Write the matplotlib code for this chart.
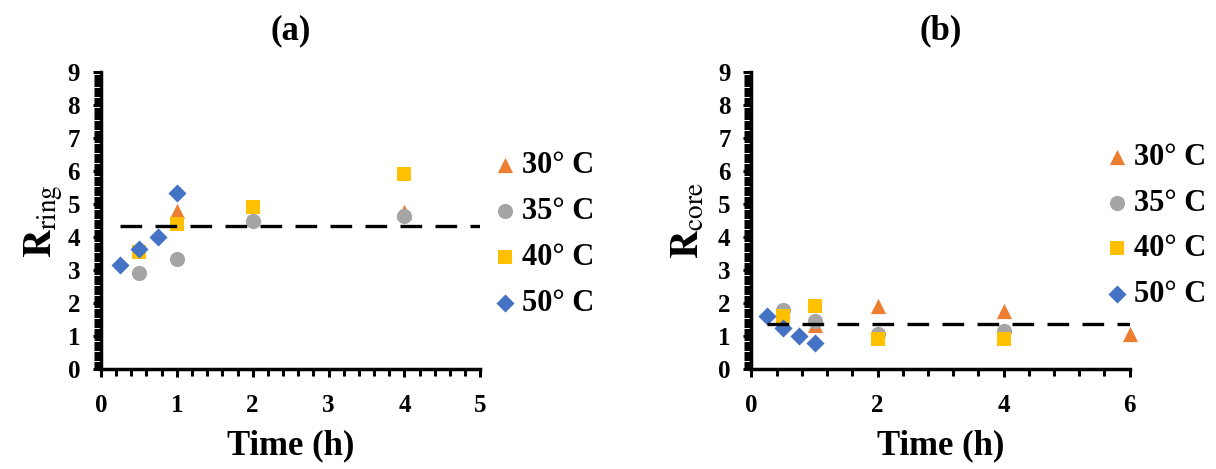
import matplotlib
matplotlib.use("Agg")
import matplotlib.pyplot as plt
from matplotlib.ticker import MultipleLocator

plt.rcParams['font.family'] = ['Liberation Serif', 'DejaVu Serif']
plt.rcParams['mathtext.fontset'] = 'stix'

labels = ['30° C', '35° C', '40° C', '50° C']
colors = ['#ED7D31', '#A5A5A5', '#FFC000', '#4472C4']
markers = ['^', 'o', 's', 'D']
sizes = [120, 120, 105, 85]

# panel (a): R_ring
ring_x = [[1, 4], [0.5, 1, 2, 4], [0.5, 1, 2, 4], [0.25, 0.5, 0.75, 1]]
ring_y = [[4.8, 4.75], [2.9, 3.35, 4.5, 4.65], [3.55, 4.4, 4.9, 5.9], [3.15, 3.65, 4.0, 5.35]]
ring_mean = 4.33
ring_span = [0.25, 5]

# panel (b): R_core
core_x = [[1, 2, 4, 6], [0.5, 1, 2, 4], [0.5, 1, 2, 4], [0.25, 0.5, 0.75, 1]]
core_y = [[1.35, 1.9, 1.75, 1.05], [1.8, 1.45, 1.07, 1.15], [1.6, 1.9, 0.92, 0.92], [1.6, 1.25, 1.0, 0.8]]
core_mean = 1.37
core_span = [0.25, 6]

fig = plt.figure(figsize=(12.16, 4.69), dpi=100)
ax1 = fig.add_axes([0.083, 0.213, 0.312, 0.633])
ax2 = fig.add_axes([0.618, 0.213, 0.311, 0.633])


def style(ax, xmax, xmajor, xminor, title, ylab, ylab_x):
    ax.set_xlim(0, xmax)
    ax.set_ylim(0, 9)
    ax.xaxis.set_major_locator(MultipleLocator(xmajor))
    ax.xaxis.set_minor_locator(MultipleLocator(xminor))
    ax.yaxis.set_major_locator(MultipleLocator(1))
    ax.yaxis.set_minor_locator(MultipleLocator(0.1))
    for s in ['top', 'right']:
        ax.spines[s].set_visible(False)
    for s in ['left', 'bottom']:
        ax.spines[s].set_linewidth(2.5)
    ax.tick_params(which='major', direction='out', length=6, width=2.2, labelsize=18)
    ax.tick_params(which='minor', direction='out', length=5, width=2.2)
    ax.tick_params(axis='x', which='major', pad=12)
    ax.tick_params(axis='y', which='major', pad=9)
    for lab in ax.get_xticklabels() + ax.get_yticklabels():
        lab.set_fontweight('bold')
    ax.set_title(title, fontsize=25, fontweight='bold', pad=24)
    ax.set_xlabel('Time (h)', fontsize=25, fontweight='bold', labelpad=9)
    ax.set_ylabel(ylab, fontsize=28)
    ax.yaxis.set_label_coords(ylab_x, 0.5)


for ax, xs, ys, mean, span in [(ax1, ring_x, ring_y, ring_mean, ring_span),
                               (ax2, core_x, core_y, core_mean, core_span)]:
    for i in range(4):
        ax.scatter(xs[i], ys[i], marker=markers[i], s=sizes[i], color=colors[i],
                   label=labels[i], zorder=3 + i, clip_on=False, linewidths=0)
    ax.plot(span, [mean, mean], color='black', lw=2.4, dashes=(6.5, 4), zorder=10)

style(ax1, 5, 1, 0.2, '(a)', r'$\mathbf{R}_{\mathrm{ring}}$', -0.095)
style(ax2, 6, 2, 0.4, '(b)', r'$\mathbf{R}_{\mathrm{core}}$', -0.115)

leg_kw = dict(frameon=False, handletextpad=0.05, handlelength=1.0,
              labelspacing=0.55, borderaxespad=0, prop={'weight': 'bold', 'size': 22})
ax1.legend(loc='center left', bbox_to_anchor=(0.393, 0.5), bbox_transform=fig.transFigure, **leg_kw)
ax2.legend(loc='center left', bbox_to_anchor=(0.896, 0.518), bbox_transform=fig.transFigure, **leg_kw)

fig.savefig('out.png', dpi=100)
